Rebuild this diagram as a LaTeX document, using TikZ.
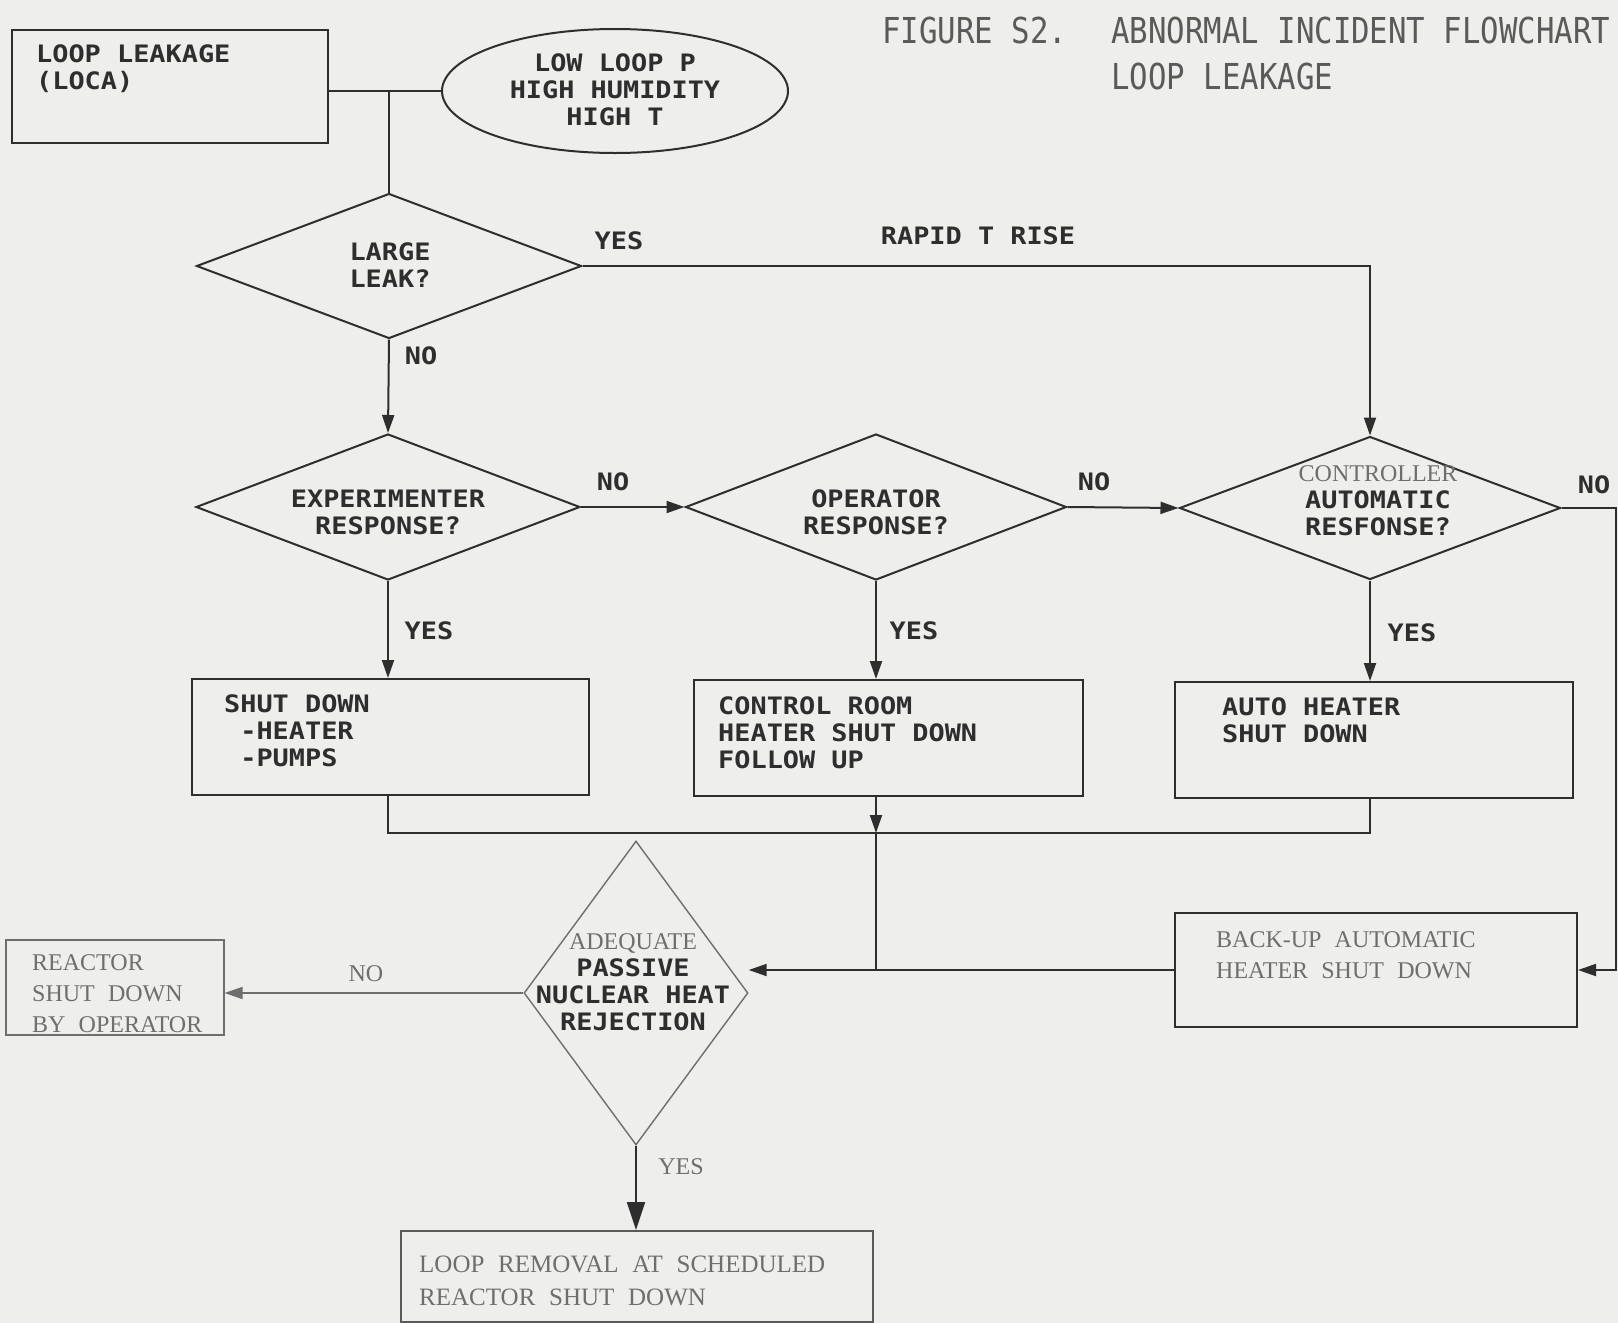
\documentclass[tikz,border=0pt]{standalone}
\usepackage{fontspec}
\setmainfont{PT Sans}
\newfontfamily\titlefont[FakeStretch=0.86]{DejaVu Sans Mono}
\newfontfamily\plotfont[FakeStretch=1.12]{DejaVu Sans Mono}
\newfontfamily\seriffont[WordSpace=2.2]{Liberation Serif}
\usetikzlibrary{shapes.geometric,arrows.meta,calc}
\definecolor{bg}{HTML}{EEEEEC}
\definecolor{ink}{HTML}{2E2E2E}
\definecolor{faint}{HTML}{6E6E6E}
\definecolor{tink}{HTML}{5A5A5A}
\tikzset{
  ln/.style={draw=ink, line width=2pt},
  arr/.style={ln, -{Triangle[length=18pt,width=12pt]}},
  garr/.style={draw=faint, line width=1.5pt, -{Triangle[length=18pt,width=12pt]}},
  bigarr/.style={ln, -{Triangle[length=28pt,width=18pt]}},
  box/.style={draw=ink, line width=2pt, rectangle, inner sep=0pt, anchor=north west},
  gbox/.style={draw=faint, line width=1.5pt, rectangle, inner sep=0pt, anchor=north west},
  dia/.style={draw=ink, line width=2pt, diamond, inner sep=0pt},
  plot/.style={font=\plotfont\fontsize{24}{27}\selectfont\bfseries, text=ink, inner sep=0pt, align=center},
  plotl/.style={plot, align=left, anchor=north west},
  ser/.style={font=\seriffont\fontsize{24}{31}\selectfont, text=faint, inner sep=0pt, align=left, anchor=north west},
  ttl/.style={font=\titlefont\fontsize{35.7}{46}\selectfont, text=tink, inner sep=0pt, anchor=west},
}
\begin{document}
\begin{tikzpicture}[x=1pt,y=-1pt]
\fill[bg] (0,0) rectangle (1618,1323);
\useasboundingbox (0,0) rectangle (1618,1323);

% title
\node[ttl] (t1) at (882,31) {FIGURE S2.};
\node[ttl] (t2) at (1111,31) {ABNORMAL INCIDENT FLOWCHART};
\node[ttl] (t3) at (1111,77) {LOOP LEAKAGE};

% top
\node[box, minimum width=316pt, minimum height=113pt] (ll) at (11,29) {};
\node[plotl] (llt) at (36,44) {LOOP LEAKAGE\\(LOCA)};
\node[draw=ink, line width=2pt, ellipse, minimum width=346pt, minimum height=124pt, inner sep=0pt] (el) at (615,91) {};
\node[plot] (elt) at (615,90) {LOW LOOP P\\HIGH HUMIDITY\\HIGH T};

% diamonds
\node[dia, minimum width=385pt, minimum height=145pt] (d1) at (389,266) {};
\node[plot] (d1t) at (390,265) {LARGE\\LEAK?};
\node[dia, minimum width=384pt, minimum height=146pt] (d2) at (388,507) {};
\node[plot] (d2t) at (388,512) {EXPERIMENTER\\RESPONSE?};
\node[dia, minimum width=381pt, minimum height=146pt] (d3) at (876,507) {};
\node[plot] (d3t) at (876,512) {OPERATOR\\RESPONSE?};
\node[dia, minimum width=381pt, minimum height=143pt] (d4) at (1370,508) {};
\node[plot] (d4t) at (1378,501) {{\seriffont\mdseries\fontsize{24}{27}\selectfont\color{faint}CONTROLLER}\\AUTOMATIC\\RESFONSE?};

% action boxes
\node[box, minimum width=397pt, minimum height=116pt] (b1) at (191,678) {};
\node[plotl] (b1t) at (224,694) {SHUT DOWN\\\ -HEATER\\\ -PUMPS};
\node[box, minimum width=389pt, minimum height=116pt] (b2) at (693,679) {};
\node[plotl] (b2t) at (718,696) {CONTROL ROOM\\HEATER SHUT DOWN\\FOLLOW UP};
\node[box, minimum width=398pt, minimum height=116pt] (b3) at (1174,681) {};
\node[plotl] (b3t) at (1222,697) {AUTO HEATER\\SHUT DOWN};
\node[box, minimum width=402pt, minimum height=114pt] (bu) at (1174,912) {};
\node[ser] (but) at (1216,931) {BACK-UP AUTOMATIC\\HEATER SHUT DOWN};

% passive diamond
\node[diamond, draw=faint, line width=1.4pt, inner sep=0pt, minimum width=224pt, minimum height=304pt] (pd) at (636,993) {};
\node[plot] (pdt) at (633,982) {{\seriffont\mdseries\fontsize{24}{27}\selectfont\color{faint}ADEQUATE}\\PASSIVE\\NUCLEAR HEAT\\REJECTION};

\node[gbox, minimum width=218pt, minimum height=95pt] (rb) at (5,939) {};
\node[ser] (rbt) at (32,954) {REACTOR\\SHUT DOWN\\BY OPERATOR};
\node[draw=tink, line width=1.6pt, rectangle, inner sep=0pt, anchor=north west, minimum width=472pt, minimum height=91pt] (lr) at (400,1230) {};
\node[ser, font=\seriffont\fontsize{25}{33}\selectfont] (lrt) at (419,1256) {LOOP REMOVAL AT SCHEDULED\\REACTOR SHUT DOWN};

% connectors
\coordinate (j1) at (d1.north |- el.west);
\draw[ln] (el.west) -- (el.west -| ll.east);
\draw[ln] (j1) -- (d1.north);
\draw[arr] (d1.east) -| (d4.north);
\draw[arr] (d1.south) -- (d2.north);
\draw[arr] (d2.east) -- (d3.west);
\draw[arr] (d3.east) -- (d4.west);
\coordinate (rail) at (1616,0);
\draw[arr] (d4.east) -- (d4.east -| rail) -- (rail |- bu.east) -- (bu.east);
\draw[arr] (d2.south) -- (d2.south |- b1.north);
\draw[arr] (d3.south) -- (d3.south |- b2.north);
\draw[arr] (d4.south) -- (d4.south |- b3.north);
\coordinate (m) at (d3.south |- 0,833);
\draw[ln] (d2.south |- b1.south) |- (d4.south |- m) -- (d4.south |- b3.south);
\draw[arr] (d3.south |- b2.south) -- (m);
\draw[ln] (m) -- (m |- bu.west);
\draw[arr] (bu.west) -- (bu.west -| pd.east);
\draw[garr] (pd.west) -- (pd.west -| rb.east);
\draw[bigarr] (pd.south) -- (pd.south |- lr.north);

% labels
\node[plot] (l1) at (619,241) {YES};
\node[plot] (l2) at (978,236) {RAPID T RISE};
\node[plot] (l3) at (421,356) {NO};
\node[plot] (l4) at (613,482) {NO};
\node[plot] (l5) at (1094,482) {NO};
\node[plot] (l6) at (1594,485) {NO};
\node[plot] (l7) at (429,631) {YES};
\node[plot] (l8) at (914,631) {YES};
\node[plot] (l9) at (1412,633) {YES};
\node[ser, anchor=center] (l10) at (366,974) {NO};
\node[ser, anchor=center] (l11) at (681,1167) {YES};
\end{tikzpicture}
\end{document}
